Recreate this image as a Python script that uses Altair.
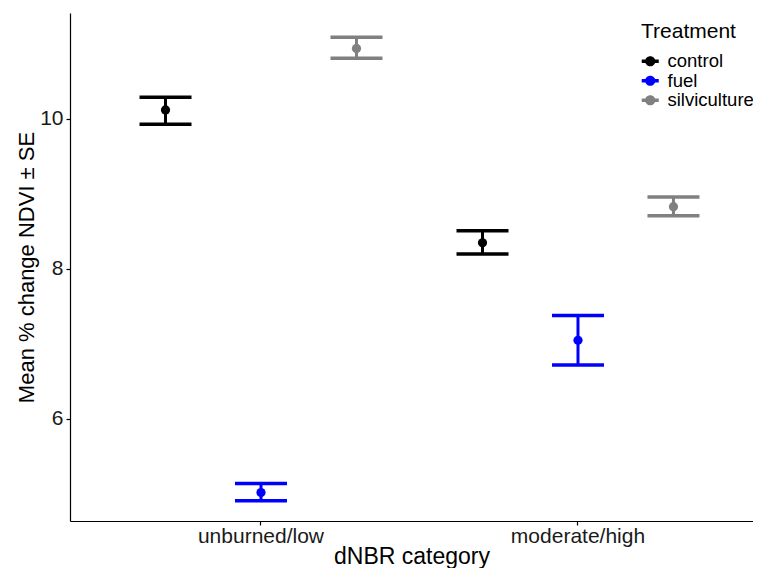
import altair as alt
import pandas as pd

categories = ["unburned/low", "moderate/high"]
treatments = ["control", "fuel", "silviculture"]
colors = ["#000000", "#0000FF", "#808080"]

mean_unburned = [10.12, 5.02, 10.94]
lower_unburned = [9.93, 4.91, 10.81]
upper_unburned = [10.29, 5.14, 11.09]

mean_moderate = [8.35, 7.05, 8.83]
lower_moderate = [8.20, 6.72, 8.71]
upper_moderate = [8.51, 7.38, 8.96]

rows = []
for cat, means, lows, ups in [
    (categories[0], mean_unburned, lower_unburned, upper_unburned),
    (categories[1], mean_moderate, lower_moderate, upper_moderate),
]:
    for t, m, lo, up in zip(treatments, means, lows, ups):
        rows.append(dict(category=cat, treatment=t, mean=m, lower=lo, upper=up))
df = pd.DataFrame(rows)

FONT = "Liberation Sans"
KEY = "M-1,-0.2L1,-0.2L1,0.2L-1,0.2Z M-0.6,0 A0.6,0.6 0 1,1 0.6,0 A0.6,0.6 0 1,1 -0.6,0 Z"

x = alt.X(
    "category:N",
    sort=categories,
    scale=alt.Scale(paddingInner=0, paddingOuter=0.0773, align=0.663),
    axis=alt.Axis(
        title="dNBR category",
        labelAngle=0,
        labelFontSize=21,
        titleFontSize=23,
        labelPadding=0,
        titlePadding=-1,
        tickSize=4,
    ),
)
xo = alt.XOffset(
    "treatment:N",
    sort=treatments,
    scale=alt.Scale(paddingInner=0, paddingOuter=0.16),
)
color = alt.Color(
    "treatment:N",
    sort=treatments,
    scale=alt.Scale(domain=treatments, range=colors),
    legend=alt.Legend(
        title="Treatment",
        orient="none",
        legendX=571,
        legendY=8,
        titleFontSize=21,
        labelFontSize=18.5,
        titleFontWeight="normal",
        symbolType=KEY,
        symbolSize=290,
        symbolStrokeWidth=0,
        rowPadding=0.5,
        titlePadding=10,
        labelOffset=8,
    ),
)
yscale = alt.Scale(domain=[4.64, 11.413], nice=False, zero=False)
yaxis = alt.Axis(
    title="Mean % change NDVI ± SE",
    values=[6, 8, 10],
    format="d",
    labelFontSize=21,
    titleFontSize=22,
    tickSize=4,
    labelPadding=3,
    titlePadding=1,
    grid=False,
)

base = alt.Chart(df).encode(x=x, xOffset=xo, color=color)

pts = base.mark_point(filled=True, size=85, opacity=1).encode(
    y=alt.Y("mean:Q", scale=yscale, axis=yaxis)
)
rule = base.mark_rule(strokeWidth=3).encode(
    y=alt.Y("lower:Q", scale=yscale), y2="upper:Q"
)
cap_lo = base.mark_tick(size=52, thickness=3.5, opacity=1).encode(
    y=alt.Y("lower:Q", scale=yscale)
)
cap_hi = base.mark_tick(size=52, thickness=3.5, opacity=1).encode(
    y=alt.Y("upper:Q", scale=yscale)
)

chart = (
    alt.layer(pts, rule, cap_lo, cap_hi)
    .properties(
        width=683,
        height=508,
        autosize=alt.AutoSizeParams(type="none"),
        padding={"left": 62, "top": 5, "right": 0, "bottom": 47},
        background="white",
    )
    .configure_view(stroke=None)
    .configure_axis(
        labelFont=FONT,
        titleFont=FONT,
        labelColor="#1a1a1a",
        titleColor="#000000",
        titleFontWeight="normal",
        domainColor="#000000",
        tickColor="#000000",
        domainWidth=1.2,
        tickWidth=1.2,
    )
    .configure_legend(labelFont=FONT, titleFont=FONT, labelColor="#000000", titleColor="#000000")
)

chart.save("out.html", embed_options={"renderer": "svg", "actions": False})
